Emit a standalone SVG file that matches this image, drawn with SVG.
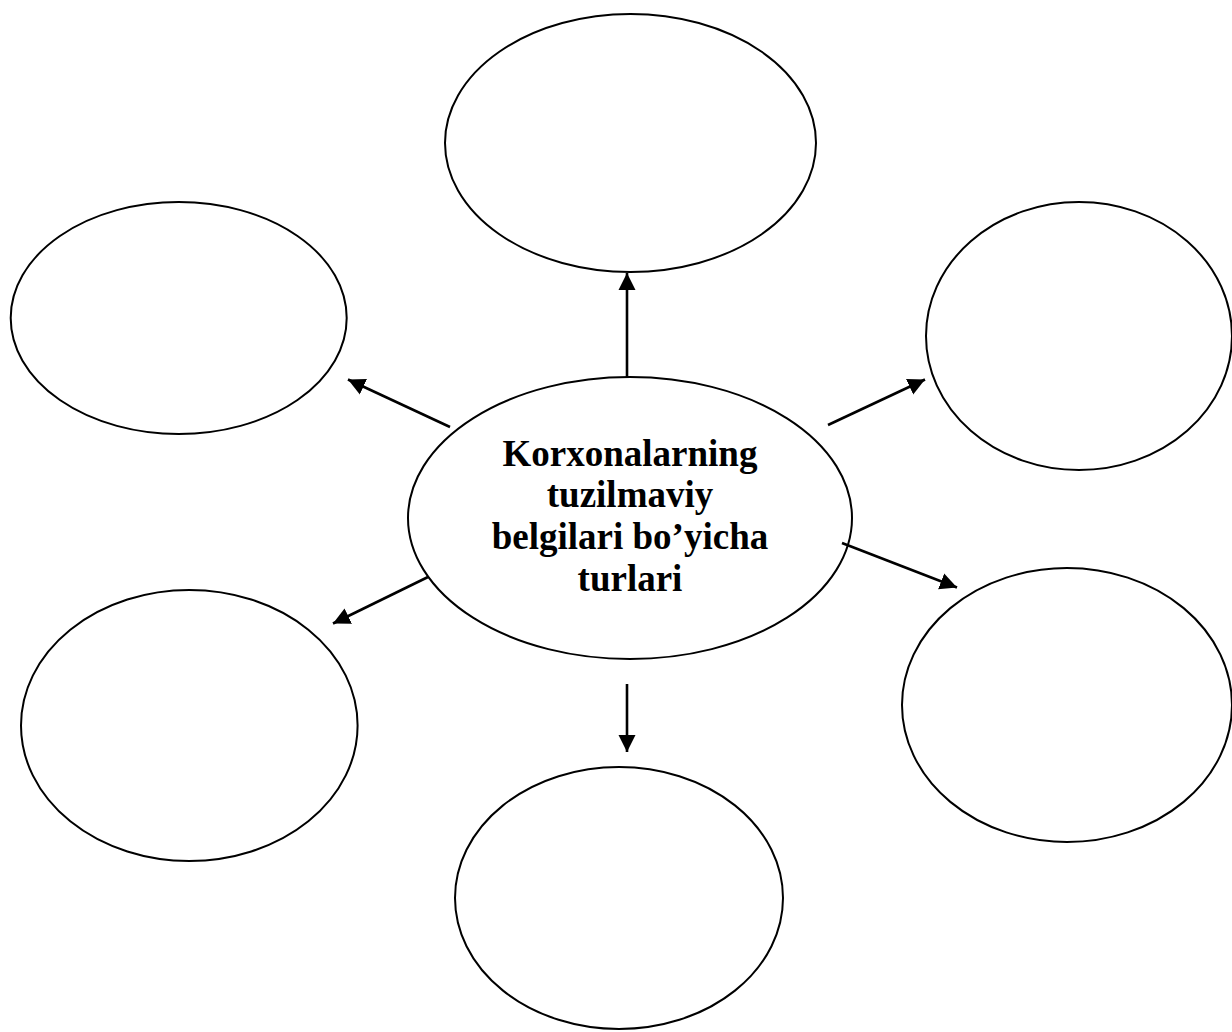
<svg xmlns="http://www.w3.org/2000/svg" width="1232" height="1032" viewBox="0 0 1232 1032">
  <style>
    .node { fill: #ffffff; stroke: #000000; stroke-width: 2; }
    .link { stroke: #000000; stroke-width: 2.6; fill: none; marker-end: url(#arrow); }
    .label { font-family: "Liberation Serif", "Times New Roman", serif; font-weight: bold; font-size: 37px; fill: #000000; text-anchor: middle; }
  </style>
  <defs>
    <marker id="arrow" markerUnits="userSpaceOnUse" markerWidth="18" markerHeight="18" viewBox="0 0 18 18" refX="17" refY="9" orient="auto">
      <polygon points="0,0.5 17,9 0,17.5" fill="#000000"/>
    </marker>
  </defs>
  <rect x="0" y="0" width="1232" height="1032" fill="#ffffff"/>

  <!-- outer ovals -->
  <g id="node-top"><ellipse class="node" cx="630.5" cy="143" rx="185.5" ry="129"/></g>
  <g id="node-left-upper"><ellipse class="node" cx="178.7" cy="318" rx="168" ry="116"/></g>
  <g id="node-right-upper"><ellipse class="node" cx="1079" cy="336" rx="153" ry="134"/></g>
  <g id="node-left-lower"><ellipse class="node" cx="189.3" cy="725.5" rx="168.3" ry="135.5"/></g>
  <g id="node-right-lower"><ellipse class="node" cx="1067" cy="705" rx="165" ry="137"/></g>
  <g id="node-bottom"><ellipse class="node" cx="619" cy="898" rx="164" ry="131"/></g>

  <!-- central oval -->
  <g id="node-center">
    <ellipse class="node" cx="630" cy="518" rx="222" ry="141"/>
    <text class="label" x="630" y="466">Korxonalarning</text>
    <text class="label" x="630" y="507">tuzilmaviy</text>
    <text class="label" x="630" y="549">belgilari bo’yicha</text>
    <text class="label" x="630" y="591">turlari</text>
  </g>

  <!-- arrows from the centre to each oval -->
  <g id="connectors">
    <line class="link" x1="627" y1="378" x2="627" y2="273"/>
    <line class="link" x1="450" y1="427" x2="348" y2="379.5"/>
    <line class="link" x1="828" y1="425" x2="925" y2="379.5"/>
    <line class="link" x1="842" y1="543" x2="957" y2="587.5"/>
    <line class="link" x1="428" y1="577" x2="333" y2="623.5"/>
    <line class="link" x1="627" y1="684" x2="627" y2="752"/>
  </g>
</svg>
